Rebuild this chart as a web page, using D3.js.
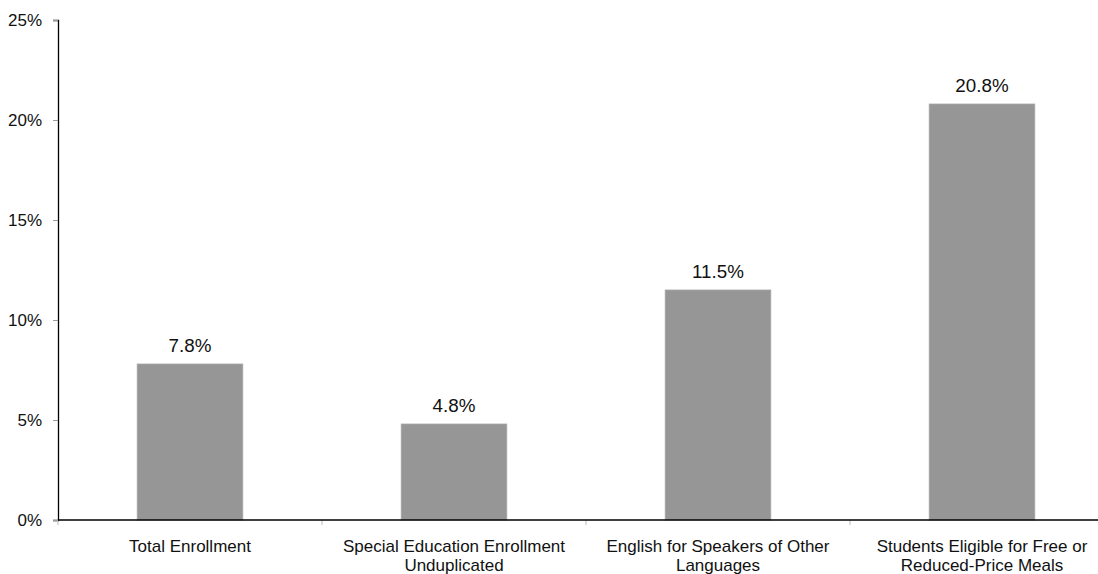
<!DOCTYPE html>
<html>
<head>
<meta charset="utf-8">
<script src="https://cdn.jsdelivr.net/npm/d3@7"></script>
<style>
  html, body { margin: 0; padding: 0; background: #fff; }
  svg { display: block; font-family: "Liberation Sans", Arial, sans-serif; }
</style>
</head>
<body>
<svg id="chart" width="1098" height="574"></svg>
<script>
// Change in enrollment by student group
const categories = [
  ["Total Enrollment"],
  ["Special Education Enrollment", "Unduplicated"],
  ["English for Speakers of Other", "Languages"],
  ["Students Eligible for Free or", "Reduced-Price Meals"]
];
const values = [7.8, 4.8, 11.5, 20.8];
const yTicks = [0, 5, 10, 15, 20, 25];

const svg = d3.select("#chart");
const plotLeft = 58, plotRight = 1114, plotTop = 20, plotBottom = 520;

const x = d3.scaleBand()
  .domain(d3.range(categories.length))
  .range([plotLeft, plotRight])
  .paddingInner(0.6)
  .paddingOuter(0.3);

const y = d3.scaleLinear().domain([0, 25]).range([plotBottom, plotTop]);

// y axis
const yAxis = svg.append("g")
  .attr("transform", `translate(${plotLeft},0)`)
  .call(d3.axisLeft(y).tickValues(yTicks).tickFormat(d => d + "%").tickSize(5).tickPadding(11));
yAxis.select(".domain").attr("stroke", "#000").attr("stroke-width", 1.3);
yAxis.selectAll(".tick line").attr("stroke", "#999");
yAxis.selectAll(".tick text").attr("font-size", 17).attr("fill", "#111")
  .attr("font-family", "Liberation Sans, Arial, sans-serif");

// bars
svg.append("g").selectAll("rect")
  .data(values)
  .join("rect")
  .attr("x", (d, i) => x(i))
  .attr("y", d => y(d))
  .attr("width", x.bandwidth())
  .attr("height", d => y(0) - y(d))
  .attr("fill", "#969696")
  .attr("stroke", "#a6a6a6")
  .attr("stroke-width", 0.8);

// value labels
svg.append("g").selectAll("text")
  .data(values)
  .join("text")
  .attr("x", (d, i) => x(i) + x.bandwidth() / 2)
  .attr("y", d => y(d) - 12.5)
  .attr("text-anchor", "middle")
  .attr("font-size", 18.8)
  .attr("fill", "#111")
  .text(d => d.toFixed(1) + "%");

// x axis line and category separators
const step = x.step();
const sepX = d3.range(categories.length).map(i => plotLeft + i * step);
svg.append("g").selectAll("line")
  .data(sepX)
  .join("line")
  .attr("x1", d => d).attr("x2", d => d)
  .attr("y1", plotBottom).attr("y2", plotBottom + 5)
  .attr("stroke", "#bbb");
svg.append("line")
  .attr("x1", plotLeft).attr("x2", 1098)
  .attr("y1", plotBottom).attr("y2", plotBottom)
  .attr("stroke", "#000").attr("stroke-width", 1.3);

// category labels
const catG = svg.append("g").selectAll("text")
  .data(categories)
  .join("text")
  .attr("x", (d, i) => x(i) + x.bandwidth() / 2)
  .attr("y", 552)
  .attr("text-anchor", "middle")
  .attr("font-size", 17)
  .attr("fill", "#111");
catG.selectAll("tspan")
  .data(d => d)
  .join("tspan")
  .attr("x", function () { return d3.select(this.parentNode).attr("x"); })
  .attr("dy", (d, i) => i === 0 ? 0 : 19)
  .text(d => d);
</script>
</body>
</html>
